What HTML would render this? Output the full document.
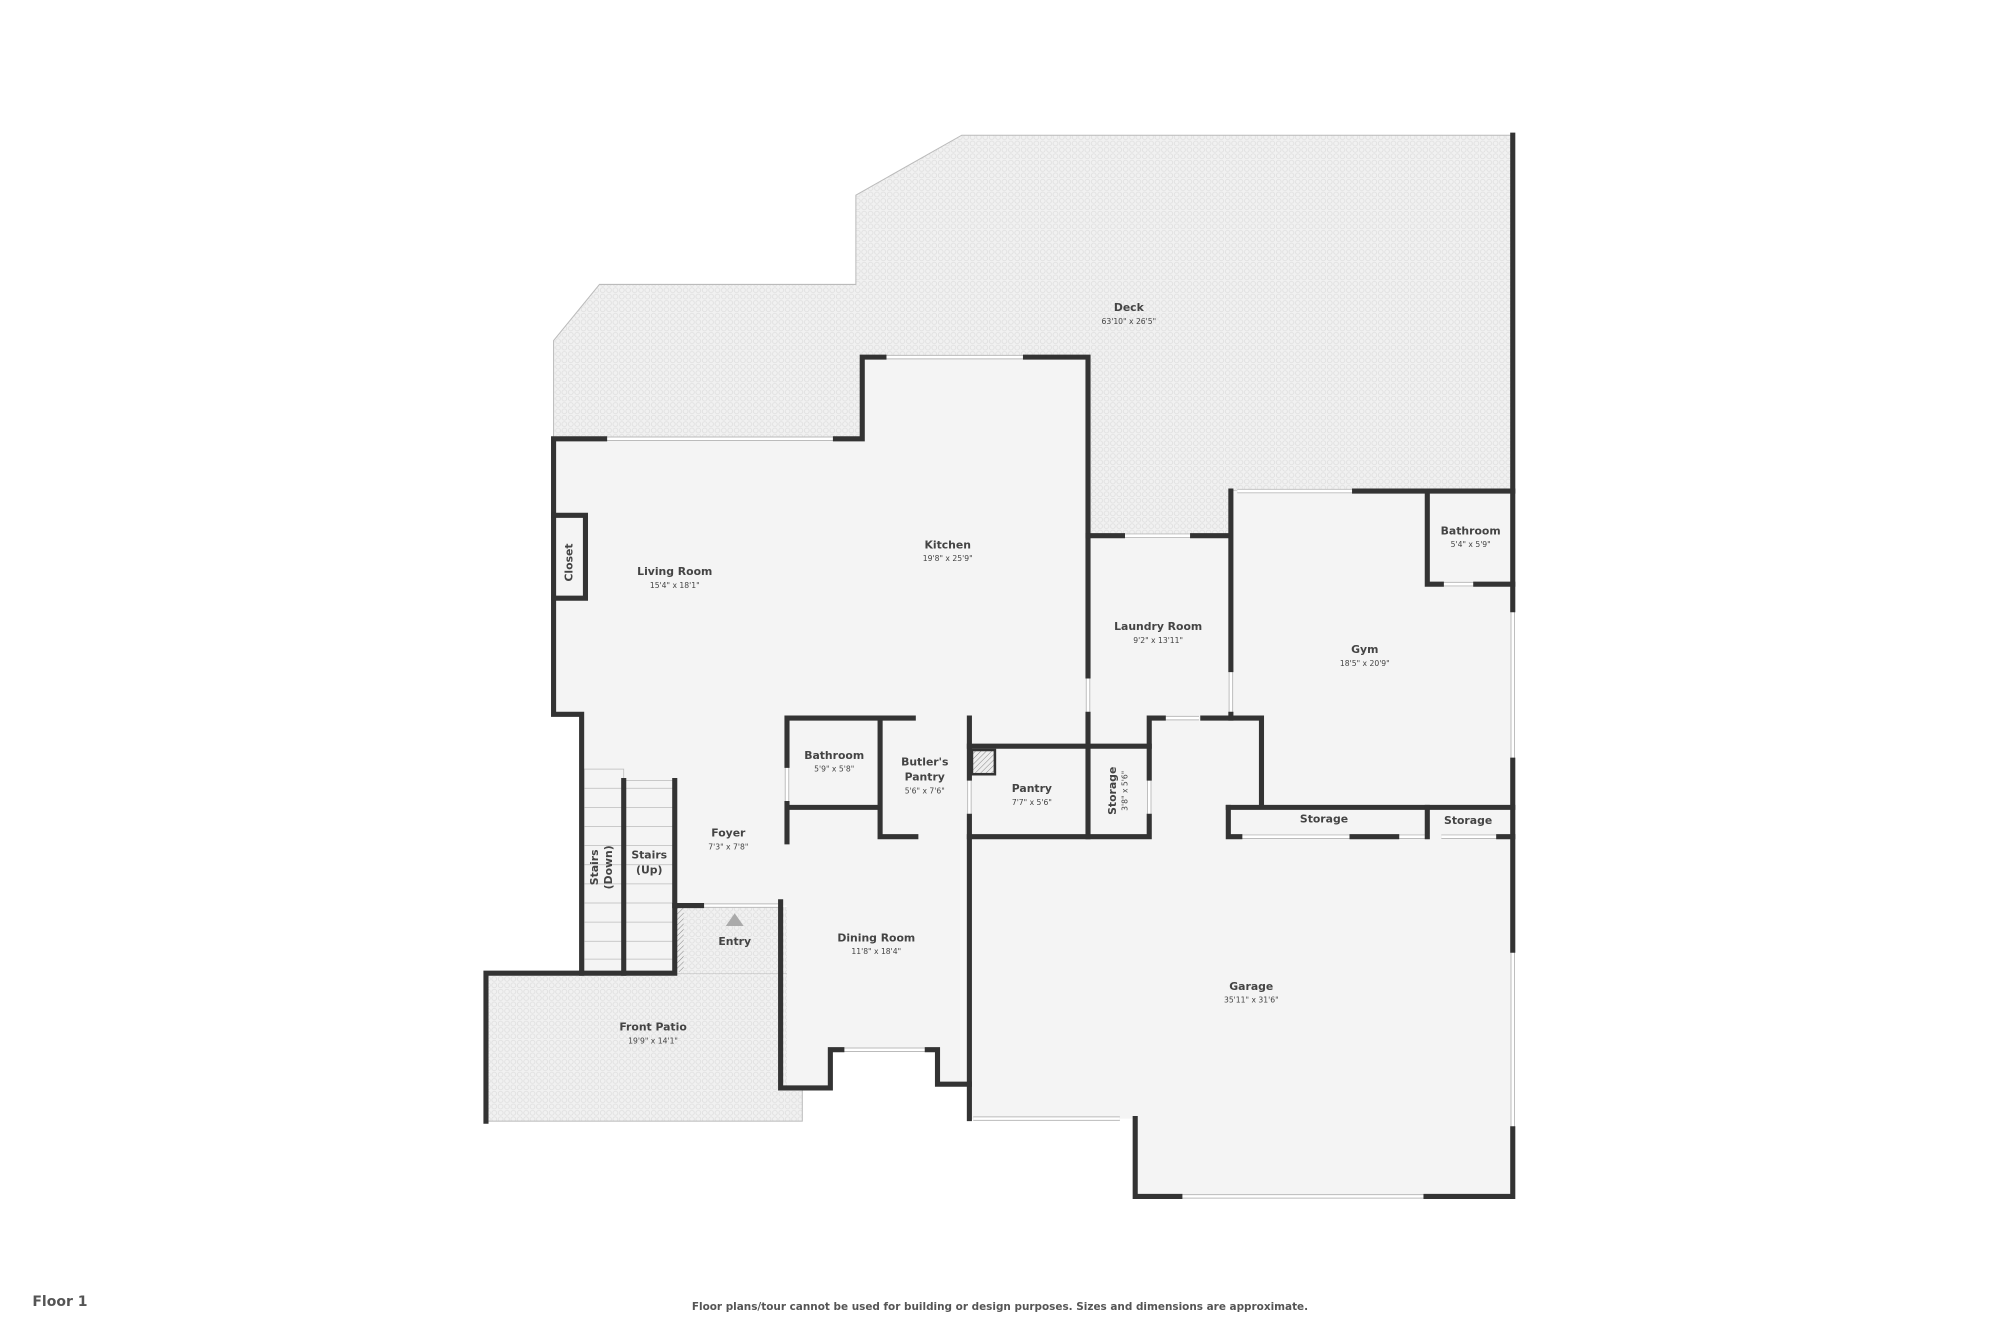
<!DOCTYPE html>
<html><head><meta charset="utf-8"><style>
html,body{margin:0;padding:0;background:#fff;}
svg{display:block;}
text{font-family:"DejaVu Sans","Liberation Sans",sans-serif;fill:#444;text-anchor:middle;}
.n{font-size:8.5px;font-weight:bold;}
.d{font-size:6px;}
</style></head><body>
<svg width="2000" height="1333" viewBox="0 0 1568 1045.1" preserveAspectRatio="none" xmlns="http://www.w3.org/2000/svg">
<defs>
<pattern id="p" width="5" height="5" patternUnits="userSpaceOnUse">
<rect width="5" height="5" fill="#f1f1f1"/>
<circle cx="2.5" cy="2.5" r="1.9" fill="none" stroke="#dedede" stroke-width="0.6"/>
</pattern>
<pattern id="h" width="3" height="3" patternUnits="userSpaceOnUse" patternTransform="rotate(45)">
<rect width="3" height="3" fill="#eee"/><line x1="0" y1="0" x2="0" y2="3" stroke="#888" stroke-width="0.8"/>
</pattern>
</defs>
<polygon points="434,267 470,223 671,223 671,153 754,106 1186,106 1186,385 965,385 965,420 853,420 853,280 676,280 676,344 434,344" fill="url(#p)" stroke="#bbb" stroke-width="0.8"/>
<rect x="381" y="763" width="248" height="116" fill="url(#p)" stroke="#bbb" stroke-width="0.8"/>
<polygon points="434,344 676,344 676,280 853,280 853,420 965,420 965,385 1186,385 1186,938 890,938 890,877 760,877 760,850 735,850 735,823 651,823 651,853 617,853 617,710 529,710 529,763 456,763 456,560 434,560" fill="#f4f4f4"/>
<rect x="531" y="711" width="86" height="52" fill="url(#p)"/>
<g stroke="#bbb" stroke-width="0.6" fill="#f4f4f4">
<rect x="458" y="603" width="31" height="160"/>
<rect x="489" y="612" width="40" height="151"/>
<path d="M458,618H529M458,633H529M458,648H529M458,663H529M458,678H529M458,693H529M458,708H529M458,723H529M458,738H529M458,752H529" fill="none"/>
</g>
<rect x="530" y="712" width="6" height="50" fill="url(#h)"/>
<rect x="762" y="588" width="18" height="19" fill="url(#h)" stroke="#333" stroke-width="2"/>
<g fill="none">
<path stroke="#bbb" stroke-width="3.5" d="M474,344H655M693,280H804M880,420H935M970,385H1062M1130,458H1157M1186,478V596M1186,745V885M925,938H1118M763,877H878M660,823H727M550,710H612M972,656H1060M1095,656H1119M1130,656H1175M853,530V560M965,525V560M617,600V630M760,610V640M901,610V640M912,563H940"/>
<path stroke="#fff" stroke-width="2" d="M474,344H655M693,280H804M880,420H935M970,385H1062M1130,458H1157M1186,478V596M1186,745V885M925,938H1118M763,877H878M660,823H727M550,710H612M972,656H1060M1095,656H1119M1130,656H1175M853,530V560M965,525V560M617,600V630M760,610V640M901,610V640M912,563H940"/>
</g>
<g stroke="#333" stroke-width="4" fill="none" stroke-linejoin="miter" stroke-linecap="square">
<path d="M474,344H434V560H456V763"/>
<path d="M655,344H676V280H693"/>
<path d="M804,280H853V530"/>
<path d="M853,560V656"/>
<path d="M434,404H459V469H434"/>
<path d="M853,420H880M935,420H965V385M965,385V525M965,560V563"/>
<path d="M1062,385H1186M1119,385V458H1130M1157,458H1186"/>
<path d="M1186,106V478M1186,596V745M1186,885V938H1118"/>
<path d="M925,938H890V877"/>
<path d="M760,877V656"/>
<path d="M943,563H989V633H1186M963,633H989"/>
<path d="M963,633V656H972M1060,656H1095M1119,633V656M1175,656H1186"/>
<path d="M760,563V610M760,640V656H901V640M901,610V563H912"/>
<path d="M760,585H901"/>
<path d="M617,600V563H716M690,563V656H718M617,633H690M617,630V660"/>
<path d="M381,879V763H529V710H550M612,707V853H651V823H660M727,823H735V850H760"/>
<path d="M489,612V763M529,612V710"/>
</g>
<polygon points="576,716 583,726 569,726" fill="#aaa"/>
<text class="n" x="885" y="244">Deck</text><text class="d" x="885" y="254">63'10" x 26'5"</text>
<text class="n" x="743" y="430">Kitchen</text><text class="d" x="743" y="440">19'8" x 25'9"</text>
<text class="n" x="529" y="451">Living Room</text><text class="d" x="529" y="461">15'4" x 18'1"</text>
<text class="n" x="908" y="494">Laundry Room</text><text class="d" x="908" y="504">9'2" x 13'11"</text>
<text class="n" x="1070" y="512">Gym</text><text class="d" x="1070" y="522">18'5" x 20'9"</text>
<text class="n" x="1153" y="419">Bathroom</text><text class="d" x="1153" y="429">5'4" x 5'9"</text>
<text class="n" x="654" y="595">Bathroom</text><text class="d" x="654" y="605">5'9" x 5'8"</text>
<text class="n" x="725" y="600">Butler's</text><text class="n" x="725" y="612">Pantry</text><text class="d" x="725" y="622">5'6" x 7'6"</text>
<text class="n" x="809" y="621">Pantry</text><text class="d" x="809" y="631">7'7" x 5'6"</text>
<text class="n" x="1038" y="645">Storage</text>
<text class="n" x="1151" y="646">Storage</text>
<text class="n" x="571" y="656">Foyer</text><text class="d" x="571" y="666">7'3" x 7'8"</text>
<text class="n" x="509" y="673">Stairs</text><text class="n" x="509" y="685">(Up)</text>
<text class="n" x="576" y="741">Entry</text>
<text class="n" x="687" y="738">Dining Room</text><text class="d" x="687" y="748">11'8" x 18'4"</text>
<text class="n" x="512" y="808">Front Patio</text><text class="d" x="512" y="818">19'9" x 14'1"</text>
<text class="n" x="981" y="776">Garage</text><text class="d" x="981" y="786">35'11" x 31'6"</text>
<text class="n" transform="translate(449,441) rotate(-90)">Closet</text>
<text class="n" transform="translate(469,680) rotate(-90)">Stairs</text>
<text class="n" transform="translate(480,680) rotate(-90)">(Down)</text>
<text class="n" transform="translate(875,620) rotate(-90)">Storage</text>
<text class="d" transform="translate(884,620) rotate(-90)">3'8" x 5'6"</text>
<text x="47" y="1024" style="font-size:11px;font-weight:bold;fill:#555">Floor 1</text>
<text x="784" y="1027" style="font-size:8.2px;font-weight:bold;fill:#555">Floor plans/tour cannot be used for building or design purposes. Sizes and dimensions are approximate.</text>
</svg>
</body></html>
